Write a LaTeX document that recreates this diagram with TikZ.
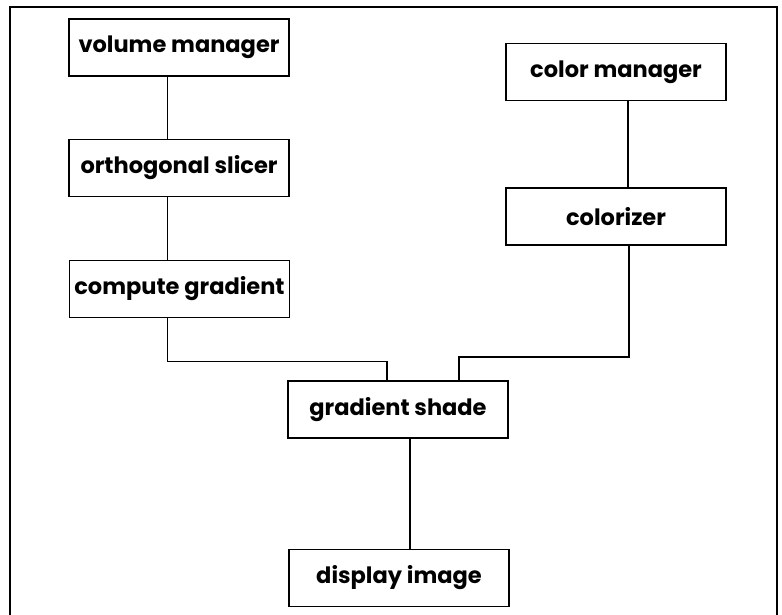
\documentclass[tikz,border=0pt]{standalone}
\usepackage{fontspec}
\newfontfamily\labelfont{Poppins}
\begin{document}
\begin{tikzpicture}[x=1pt,y=-1pt,
  modbox/.style={draw,line width=1.8pt,minimum width=220pt,minimum height=57pt,
    inner sep=0pt,font=\labelfont\bfseries\fontsize{22.5}{25}\selectfont},
  link/.style={line width=1.4pt}]
\useasboundingbox (0,0) rectangle (782,614);
% outer frame (runs past the lower edge)
\draw[line width=1.6pt] (10,640) -- (10,7) -- (777,7) -- (777,640);
% modules
\node[modbox] (vm) at (179,47.5) {volume manager};
\node[modbox] (os) at (179,168) {orthogonal slicer};
\node[modbox] (cg) at (179.5,289) {compute gradient};
\node[modbox] (cm) at (616,72) {color manager};
\node[modbox] (cz) at (616,216.5) {colorizer};
\node[modbox] (gs) at (398,409.5) {gradient shade};
\node[modbox] (di) at (399,578) {display image};
% connections
\draw[link] ([xshift=-11.5pt]vm.south) -- ([xshift=-11.5pt]os.north);
\draw[link] ([xshift=-11.5pt]os.south) -- ([xshift=-12pt]cg.north);
\draw[link] ([xshift=12pt]cm.south) -- ([xshift=12pt]cz.north);
\draw[link] ([xshift=-12pt]cg.south) |- ++(0,43) -| ([xshift=-11pt]gs.north);
\draw[link] ([xshift=13pt]cz.south) |- ++(0,111) -| ([xshift=61pt]gs.north);
\draw[link] ([xshift=12pt]gs.south) -- ([xshift=11pt]di.north);
\end{tikzpicture}
\end{document}
